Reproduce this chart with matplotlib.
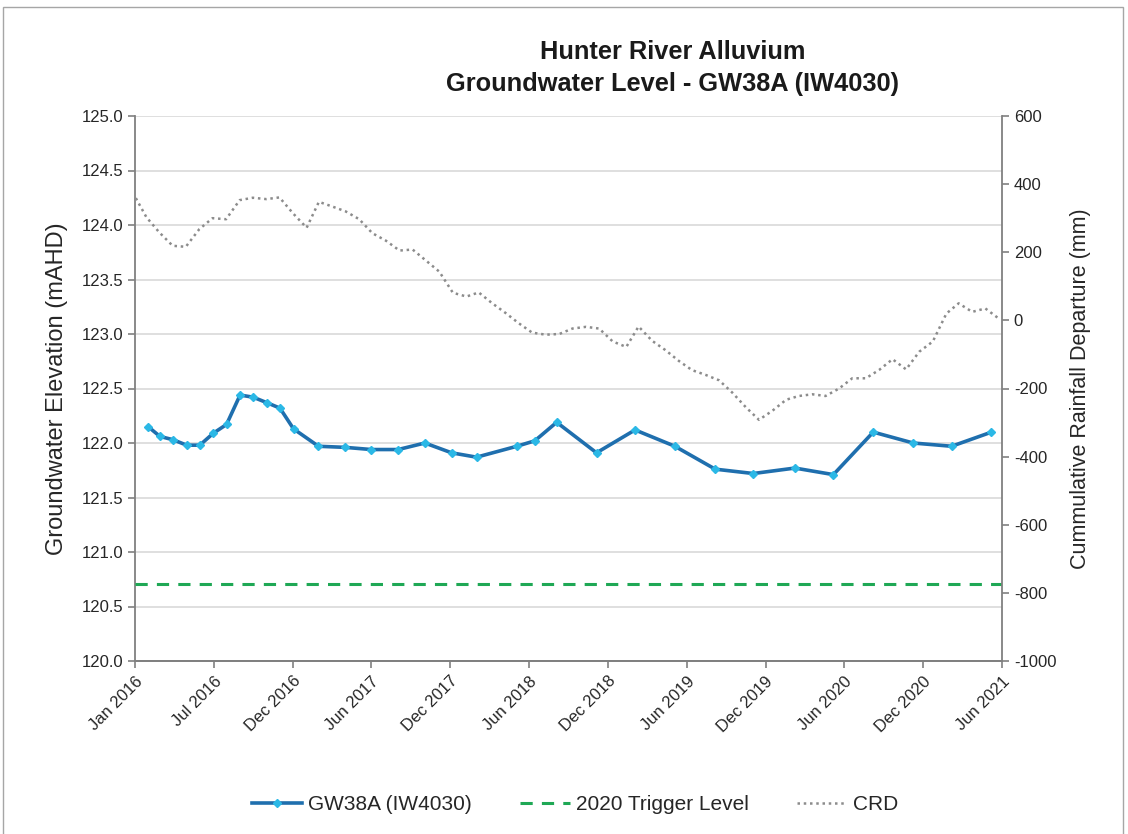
import datetime as dt
import matplotlib
matplotlib.use("Agg")
import matplotlib.pyplot as plt
import matplotlib.dates as mdates
from matplotlib.lines import Line2D
import pandas as pd

plt.rcParams["font.family"] = ["Liberation Sans", "DejaVu Sans"]
plt.rcParams["axes.unicode_minus"] = False

# groundwater level readings (mAHD)
gw_dates = [
    "2016-02-04", "2016-03-02", "2016-04-01", "2016-05-02", "2016-06-01", "2016-07-02",
    "2016-08-01", "2016-09-01", "2016-10-01", "2016-11-01", "2016-12-01", "2017-01-01",
    "2017-02-27", "2017-04-29", "2017-06-28", "2017-08-28", "2017-10-28", "2017-12-28",
    "2018-02-23", "2018-05-26", "2018-07-06", "2018-08-25", "2018-11-24", "2019-02-20",
    "2019-05-22", "2019-08-22", "2019-11-17", "2020-02-20", "2020-05-18", "2020-08-17",
    "2020-11-16", "2021-02-12", "2021-05-14",
]
gw_levels = [
    122.15, 122.06, 122.03, 121.98, 121.98, 122.09,
    122.17, 122.44, 122.42, 122.37, 122.32, 122.13,
    121.97, 121.96, 121.94, 121.94, 122.00, 121.91,
    121.87, 121.97, 122.02, 122.19, 121.91, 122.12,
    121.97, 121.76, 121.72, 121.77, 121.71, 122.10,
    122.00, 121.97, 122.10,
]

# cumulative rainfall departure (mm), month end values from Dec 2015
crd_first_month = "2015-12-31"
crd_values = [
    375, 303, 259, 219, 216, 268, 300, 297, 353, 360, 356, 361,
    314, 272, 348, 334, 320, 297, 256, 234, 205, 208, 175, 143,
    81, 70, 82, 50, 22, -9, -36, -42, -40, -24, -19, -24,
    -62, -78, -18, -60, -87, -119, -146, -160, -176, -212, -255, -292,
    -265, -233, -222, -217, -222, -200, -170, -170, -145, -114, -144, -92,
    -62, 20, 50, 25, 35, 5,
]

trigger_level = 120.71

x_start = dt.datetime(2016, 1, 5)
tick_step_days = 180
n_ticks = 12

crd_dates = pd.date_range(crd_first_month, periods=len(crd_values), freq="ME")
gw_x = pd.to_datetime(gw_dates)

fig = plt.figure(figsize=(11.28, 8.34), dpi=100)
ax = fig.add_axes([135 / 1128, 1 - 661 / 834, 867 / 1128, 545 / 834])
ax2 = ax.twinx()

grid_col = "#d9d9d9"
axis_col = "#808080"
text_col = "#262626"

ax.set_ylim(120, 125)
ax.set_yticks([120 + 0.5 * i for i in range(11)])
ax.yaxis.set_major_formatter(matplotlib.ticker.FormatStrFormatter("%.1f"))
ax.grid(axis="y", color=grid_col, lw=1.2)
ax.set_axisbelow(True)

ax2.set_ylim(-1000, 600)
ax2.set_yticks(range(-1000, 601, 200))

ticks = [x_start + dt.timedelta(days=tick_step_days * i) for i in range(n_ticks)]
ax.set_xlim(ticks[0], ticks[-1])
ax.set_xticks(ticks)
ax.xaxis.set_major_formatter(mdates.DateFormatter("%b %Y"))
for lbl in ax.get_xticklabels():
    lbl.set_rotation(45)
    lbl.set_ha("right")
    lbl.set_rotation_mode("anchor")

gw_line, = ax.plot(gw_x, gw_levels, color="#1f6fae", lw=2.6, marker="D", ms=3.8,
                   mfc="#2bb8e6", mec="#2bb8e6", zorder=4)
trig_line = ax.axhline(trigger_level, color="#1fa855", lw=2.2, ls=(0, (4, 3)), zorder=3)
crd_line, = ax2.plot(crd_dates, crd_values, color="#8c8c8c", lw=1.8, ls=(0, (1, 1.5)))

for a in (ax, ax2):
    a.spines["top"].set_visible(False)
    for s in ("left", "right", "bottom"):
        a.spines[s].set_color(axis_col)
        a.spines[s].set_linewidth(1.3)
    a.tick_params(colors=axis_col, labelcolor=text_col, labelsize=12, length=5, width=1.2)
ax.spines["right"].set_visible(False)
ax2.spines["left"].set_visible(False)
ax.tick_params(axis="x", pad=4)

ax.set_ylabel("Groundwater Elevation (mAHD)", fontsize=17, color=text_col, labelpad=10)
ax2.set_ylabel("Cummulative Rainfall Departure (mm)", fontsize=15.5, color=text_col, labelpad=10)

fig.text(673 / 1128, 1 - 52 / 834, "Hunter River Alluvium", ha="center", va="center",
         fontsize=18.3, fontweight="bold", color="#1a1a1a")
fig.text(673 / 1128, 1 - 84 / 834, "Groundwater Level - GW38A (IW4030)", ha="center",
         va="center", fontsize=18.3, fontweight="bold", color="#1a1a1a")

handles = [
    Line2D([], [], color="#1f6fae", lw=2.6, marker="D", ms=3.8, mfc="#2bb8e6", mec="#2bb8e6"),
    Line2D([], [], color="#1fa855", lw=2.2, ls=(0, (4, 3))),
    Line2D([], [], color="#8c8c8c", lw=1.8, ls=(0, (1, 1.5))),
]
fig.legend(handles, ["GW38A (IW4030)", "2020 Trigger Level", "CRD"], loc="center",
           bbox_to_anchor=(575 / 1128, 1 - 805 / 834), ncol=3, frameon=False,
           fontsize=15, handlelength=2.4, handletextpad=0.3, columnspacing=2.3,
           numpoints=1, labelcolor=text_col)

border = matplotlib.patches.Rectangle((3 / 1128, -0.05), 1120 / 1128, 1.05 - 7 / 834,
                                      transform=fig.transFigure, fill=False,
                                      edgecolor="#a6a6a6", lw=1)
fig.patches.append(border)

fig.savefig("out.png", dpi=100)
